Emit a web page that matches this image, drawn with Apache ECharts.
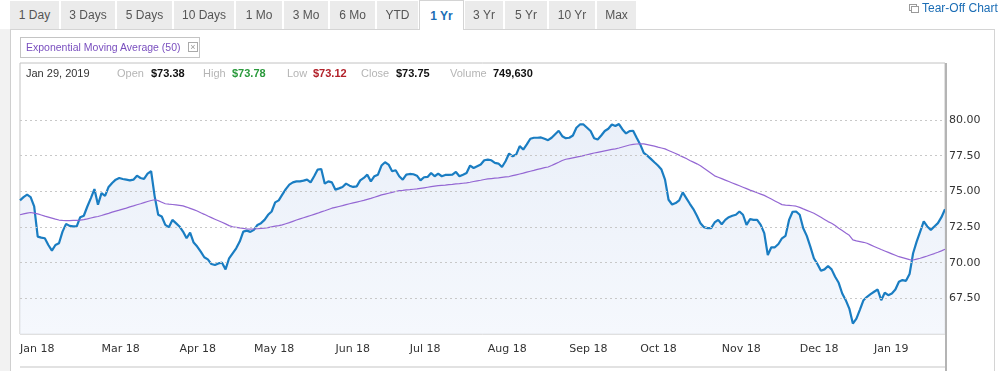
<!DOCTYPE html>
<html>
<head>
<meta charset="utf-8">
<script src="https://cdn.jsdelivr.net/npm/echarts@6/dist/echarts.min.js"></script>
<style>
  html, body { margin:0; padding:0; width:1000px; height:371px; overflow:hidden; background:#fff; font-family:"Liberation Sans", Arial, sans-serif; }
  #chart { position:absolute; left:0; top:0; width:1000px; height:371px; }
  .ov { position:absolute; z-index:2; }
  .tab { position:absolute; top:1px; height:28px; line-height:28px; background:#ebebeb; color:#555; font-size:12px; text-align:center; }
  .tab.sel { background:#fff; color:#1b6db5; font-weight:bold; border:1px solid #d4d4d4; border-bottom:none; top:0; height:30px; line-height:30px; box-sizing:border-box; }
  .info { position:absolute; top:67px; font-size:11px; color:#333; white-space:nowrap; }
  .lbl { color:#b5b5b5; }
  .val { font-weight:bold; color:#111; }
</style>
</head>
<body>
<div id="chart"></div>

<!-- page frame -->
<div class="ov" style="left:0;top:29px;width:10px;height:342px;background:#f2f2f2;"></div>
<div class="ov" style="left:10px;top:29px;width:1px;height:342px;background:#cfcfcf;"></div>
<div class="ov" style="left:10px;top:29px;width:985px;height:1px;background:#d4d4d4;"></div>
<div class="ov" style="left:994px;top:29px;width:1px;height:342px;background:#d4d4d4;"></div>

<!-- tabs -->
<div class="tab" style="left:10px;width:49px;">1 Day</div>
<div class="tab" style="left:61px;width:54px;">3 Days</div>
<div class="tab" style="left:117px;width:55px;">5 Days</div>
<div class="tab" style="left:174px;width:60px;">10 Days</div>
<div class="tab" style="left:236px;width:46px;">1 Mo</div>
<div class="tab" style="left:284px;width:44px;">3 Mo</div>
<div class="tab" style="left:330px;width:45px;">6 Mo</div>
<div class="tab" style="left:377px;width:41px;">YTD</div>
<div class="tab sel" style="left:419px;width:45px;z-index:3;">1 Yr</div>
<div class="tab" style="left:465px;width:38px;">3 Yr</div>
<div class="tab" style="left:505px;width:42px;">5 Yr</div>
<div class="tab" style="left:549px;width:46px;">10 Yr</div>
<div class="tab" style="left:597px;width:39px;">Max</div>

<!-- tear-off -->
<div class="ov" style="left:909px;top:4px;width:6px;height:5px;border:1px solid #9a9a9a;background:#fff;"></div>
<div class="ov" style="left:911px;top:6px;width:6px;height:5px;border:1px solid #9a9a9a;background:#fff;"></div>
<div class="ov" style="left:922px;top:1px;font-size:12px;color:#1b6db5;line-height:14px;">Tear-Off Chart</div>

<!-- indicator legend -->
<div class="ov" style="left:20px;top:37px;width:178px;height:19px;border:1px solid #c4c4c4;font-size:10.5px;color:#7a4fbf;line-height:19px;box-sizing:content-box;">
  <span style="position:absolute;left:5px;">Exponential Moving Average (50)</span>
  <span style="position:absolute;left:167px;top:4px;width:8px;height:8px;border:1px solid #aaa;color:#999;font-size:9px;line-height:8px;text-align:center;">×</span>
</div>

<!-- info line -->
<div class="info" style="left:26px;">Jan 29, 2019</div>
<div class="info lbl" style="left:117px;">Open</div>
<div class="info val" style="left:151px;">$73.38</div>
<div class="info lbl" style="left:203px;">High</div>
<div class="info val" style="left:232px;color:#2a9a3c;">$73.78</div>
<div class="info lbl" style="left:287px;">Low</div>
<div class="info val" style="left:313px;color:#b2212a;">$73.12</div>
<div class="info lbl" style="left:361px;">Close</div>
<div class="info val" style="left:396px;">$73.75</div>
<div class="info lbl" style="left:450px;">Volume</div>
<div class="info val" style="left:493px;">749,630</div>

<!-- chart box right edge and bottom rule -->
<div class="ov" style="left:945px;top:63px;width:2px;height:308px;background:#b4b4b4;"></div>
<div class="ov" style="left:20px;top:366px;width:925px;height:2px;background:#e2e2e2;"></div>

<script>
// ---- data ----
const startDate = '2018-01-29';
const endDate = '2019-01-29';
const monthLabels = ['Jan 18','Mar 18','Apr 18','May 18','Jun 18','Jul 18','Aug 18','Sep 18','Oct 18','Nov 18','Dec 18','Jan 19'];
const yTickLabels = [67.5, 70, 72.5, 75, 77.5, 80];

const price = [
74.37,74.60,74.77,74.60,73.94,71.83,71.76,71.71,71.24,70.85,
71.24,71.36,72.18,72.72,72.58,72.54,72.54,73.19,73.29,73.94,
74.53,75.16,74.06,74.88,74.69,75.31,75.59,75.82,75.94,75.87,
75.82,75.77,75.82,76.10,75.94,75.87,76.24,76.41,74.65,73.36,
73.24,72.65,72.49,73.00,72.77,72.54,72.18,71.71,72.11,71.41,
71.13,70.77,70.38,70.23,69.91,69.84,69.95,70.00,69.53,70.31,
70.66,71.01,71.48,72.18,72.25,72.16,72.30,72.65,72.77,73.00,
73.36,73.59,74.23,74.37,74.77,75.16,75.47,75.63,75.70,75.70,
75.75,75.82,75.63,76.06,76.53,76.57,75.54,75.70,75.63,75.12,
75.21,75.31,75.54,75.40,75.31,75.35,75.77,75.94,76.17,75.70,
76.06,76.17,76.81,77.04,76.88,76.41,76.48,76.06,75.82,76.17,
76.22,76.20,76.10,75.77,75.99,76.01,76.29,76.06,76.24,76.06,
76.15,76.15,76.17,76.36,76.06,76.17,76.29,76.81,76.64,76.76,
76.88,77.18,77.23,77.18,77.00,76.95,76.71,77.11,77.65,77.46,
77.58,78.17,77.93,78.29,78.69,78.76,78.76,78.78,78.69,78.59,
78.76,79.01,79.25,78.87,78.73,78.76,78.92,79.46,79.69,79.69,
79.46,79.23,78.73,78.64,78.92,79.23,79.39,79.69,79.58,79.72,
79.34,79.06,79.23,79.25,78.76,78.29,77.70,77.51,77.28,77.04,
76.81,76.53,75.82,74.41,74.08,74.18,74.37,74.93,74.53,74.13,
73.76,73.29,72.77,72.49,72.42,72.42,72.82,73.00,72.70,73.00,
73.19,73.29,73.36,73.59,73.36,72.65,73.05,73.00,73.00,72.65,
72.07,70.54,71.08,71.08,71.31,71.71,71.88,73.00,73.57,73.59,
73.36,72.42,71.88,71.13,70.31,69.91,69.44,69.53,69.77,69.53,
69.01,68.59,67.84,67.37,66.78,65.73,66.08,66.71,67.37,67.61,
67.79,67.96,68.12,67.37,67.89,67.72,67.84,68.12,68.66,68.78,
68.73,69.20,70.66,71.48,72.18,72.89,72.54,72.30,72.54,72.77,
73.19,73.75];

const ema50 = [
73.36,73.42,73.48,73.52,73.48,73.42,73.34,73.26,73.19,73.12,
73.05,72.99,72.96,72.95,72.95,72.96,72.97,72.99,73.02,73.07,
73.13,73.19,73.24,73.31,73.39,73.46,73.54,73.61,73.68,73.76,
73.83,73.91,73.98,74.06,74.13,74.21,74.29,74.36,74.41,74.35,
74.24,74.13,74.10,74.08,74.05,74.02,73.98,73.90,73.81,73.72,
73.62,73.50,73.39,73.27,73.16,73.05,72.94,72.83,72.72,72.60,
72.52,72.48,72.44,72.40,72.36,72.35,72.36,72.38,72.40,72.42,
72.46,72.51,72.56,72.60,72.65,72.73,72.81,72.90,72.99,73.07,
73.15,73.23,73.31,73.39,73.47,73.56,73.64,73.73,73.82,73.88,
73.94,74.00,74.07,74.13,74.19,74.25,74.31,74.37,74.44,74.51,
74.59,74.67,74.75,74.81,74.87,74.93,74.99,75.05,75.07,75.10,
75.12,75.15,75.17,75.21,75.25,75.29,75.33,75.37,75.40,75.42,
75.44,75.47,75.49,75.52,75.54,75.57,75.60,75.64,75.69,75.74,
75.78,75.83,75.87,75.90,75.93,75.95,75.98,76.01,76.04,76.10,
76.16,76.22,76.28,76.35,76.41,76.47,76.54,76.60,76.66,76.71,
76.81,76.93,77.04,77.16,77.25,77.30,77.35,77.40,77.45,77.51,
77.57,77.63,77.69,77.74,77.79,77.84,77.89,77.94,77.98,78.04,
78.11,78.18,78.25,78.30,78.32,78.33,78.33,78.28,78.23,78.17,
78.10,78.04,77.98,77.87,77.76,77.65,77.54,77.42,77.30,77.17,
77.05,76.93,76.80,76.62,76.45,76.27,76.09,75.99,75.89,75.79,
75.69,75.59,75.49,75.39,75.29,75.19,75.09,75.00,74.90,74.81,
74.72,74.59,74.46,74.33,74.20,74.07,74.04,74.02,73.99,73.96,
73.88,73.77,73.67,73.57,73.47,73.33,73.18,73.03,72.88,72.77,
72.60,72.42,72.25,72.08,71.92,71.60,71.53,71.48,71.43,71.36,
71.25,71.14,71.03,70.92,70.82,70.72,70.62,70.52,70.42,70.35,
70.28,70.21,70.19,70.25,70.31,70.39,70.47,70.56,70.64,70.73,
70.83,70.94];

// ---- categories: every weekday from start to end ----
const dates = [];
{
  const d = new Date(startDate + 'T12:00:00Z');
  const e = new Date(endDate + 'T12:00:00Z');
  while (d <= e) {
    const wd = d.getUTCDay();
    if (wd !== 0 && wd !== 6) dates.push(d.toISOString().slice(0, 10));
    d.setUTCDate(d.getUTCDate() + 1);
  }
}
const MON = ['Jan','Feb','Mar','Apr','May','Jun','Jul','Aug','Sep','Oct','Nov','Dec'];
function monthName(s) { return MON[+s.slice(5,7)-1] + ' ' + s.slice(2,4); }
const labelIndex = {};
dates.forEach((s, i) => {
  const m = monthName(s);
  if (monthLabels.includes(m) && !(m in labelIndex)) labelIndex[m] = i;
});
const labelIdxSet = new Set(Object.values(labelIndex));

const chart = echarts.init(document.getElementById('chart'), null, { renderer: 'canvas' });
chart.setOption({
  animation: false,
  backgroundColor: 'transparent',
  grid: { left: 20, right: 55, top: 63, bottom: 37, show: true, borderColor: '#c2c2c2', borderWidth: 1, backgroundColor: '#fff' },
  xAxis: {
    type: 'category',
    data: dates,
    boundaryGap: false,
    axisLine: { show: false },
    axisTick: { show: false },
    splitLine: { show: false },
    axisLabel: {
      interval: (idx) => labelIdxSet.has(idx),
      formatter: (v) => monthName(v),
      align: 'left',
      margin: 10,
      color: '#333',
      fontFamily: 'DejaVu Sans',
      fontSize: 11
    }
  },
  yAxis: {
    type: 'value',
    position: 'right',
    min: 65,
    max: 84,
    interval: 2.5,
    axisLine: { show: false },
    axisTick: { show: false },
    splitLine: { show: false },
    axisLabel: {
      margin: 4,
      color: '#333',
      fontFamily: 'DejaVu Sans',
      fontSize: 11,
      formatter: (v) => yTickLabels.includes(v) ? v.toFixed(2) : ''
    }
  },
  series: [
    {
      name: 'Price',
      type: 'line',
      data: price,
      showSymbol: false,
      symbol: 'none',
      z: 3,
      lineStyle: { color: '#1a7dc2', width: 2.2 },
      areaStyle: {
        origin: 'start',
        color: new echarts.graphic.LinearGradient(0, 0, 0, 1, [
          { offset: 0, color: '#e1e9f6' },
          { offset: 1, color: '#f1f5fc' }
        ])
      },
      markLine: {
        silent: true,
        symbol: 'none',
        label: { show: false },
        lineStyle: { color: '#c8c8c8', type: [2, 3], width: 1 },
        data: yTickLabels.map(v => ({ yAxis: v }))
      }
    },
    {
      name: 'Exponential Moving Average (50)',
      type: 'line',
      data: ema50,
      showSymbol: false,
      symbol: 'none',
      z: 4,
      lineStyle: { color: '#9467d3', width: 1.2 }
    }
  ]
});
</script>
</body>
</html>
